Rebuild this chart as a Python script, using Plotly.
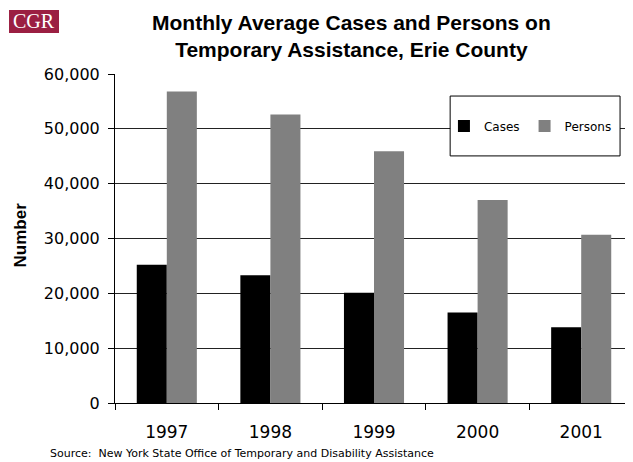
import plotly.graph_objects as go

# data
years = ["1997", "1998", "1999", "2000", "2001"]
cases = [25200, 23300, 20100, 16500, 13800]
persons = [56800, 52600, 45900, 37000, 30700]
y_ticks = [0, 10000, 20000, 30000, 40000, 50000, 60000]


def main():
    fig = go.Figure()
    fig.add_trace(go.Bar(x=years, y=cases, name="Cases", marker=dict(color="#000000", line=dict(width=0))))
    fig.add_trace(go.Bar(x=years, y=persons, name="Persons", marker=dict(color="#808080", line=dict(width=0))))

    # legend box (drawn as a shape so it has the same size as the reference)
    fig.add_shape(type="rect", xref="paper", yref="paper", x0=0.647, x1=0.975, y0=0.751, y1=0.933,
                  line=dict(color="black", width=1), fillcolor="white", layer="above")

    # CGR logo
    fig.add_shape(type="rect", xref="paper", yref="paper", x0=-0.2046, x1=-0.1081, y0=1.1246, y1=1.1945,
                  line=dict(width=0), fillcolor="#9b1f42", layer="above")
    fig.add_annotation(x=-0.1564, y=1.160, xref="paper", yref="paper", xanchor="center", yanchor="middle",
                       text="CGR", showarrow=False,
                       font=dict(family="Liberation Serif", size=20, color="white"))

    # title
    fig.add_annotation(x=0.4556, y=1.1155, xref="paper", yref="paper", xanchor="center", yanchor="middle",
                       text="<b>Monthly Average Cases and Persons on</b><br><b>Temporary Assistance, Erie County</b>",
                       showarrow=False, font=dict(family="Liberation Sans", size=21, color="black"))

    # y axis title
    fig.add_annotation(x=-0.183, y=0.51, xref="paper", yref="paper", xanchor="center", yanchor="middle",
                       text="<b>Number</b>", textangle=-90, showarrow=False,
                       font=dict(family="Liberation Sans", size=17, color="black"))

    # source
    fig.add_annotation(x=-0.129, y=-0.155, xref="paper", yref="paper", xanchor="left", yanchor="middle",
                       text="Source:  New York State Office of Temporary and Disability Assistance",
                       showarrow=False, font=dict(family="DejaVu Sans", size=11, color="black"))

    # page body has an 8px margin, so the figure is 8px smaller on each side
    fig.update_layout(width=625, height=454, margin=dict(l=107, r=0, t=66, b=59),
                      paper_bgcolor="white", plot_bgcolor="white",
                      barmode="group", bargap=0.42, bargroupgap=0,
                      showlegend=True,
                      legend=dict(orientation="h", x=0.969, y=0.842, xanchor="right", yanchor="middle",
                                  bgcolor="rgba(0,0,0,0)", font=dict(family="DejaVu Sans", size=12, color="black")))
    fig.update_xaxes(type="category", tickson="boundaries", ticks="outside", ticklen=6, tickcolor="black",
                     showline=True, linecolor="black", linewidth=1, showgrid=False, ticklabelstandoff=14,
                     tickfont=dict(family="DejaVu Sans", size=17, color="black"))
    fig.update_yaxes(range=[0, 60000], tickvals=y_ticks, tickformat=",d", ticks="outside", ticklen=6,
                     tickcolor="black", showline=True, linecolor="black", linewidth=1,
                     showgrid=True, gridcolor="#222222", gridwidth=1, zeroline=False, ticklabelstandoff=5,
                     tickfont=dict(family="DejaVu Sans", size=16, color="black"))

    fig.write_html("out.html")


if __name__ == "__main__":
    main()
